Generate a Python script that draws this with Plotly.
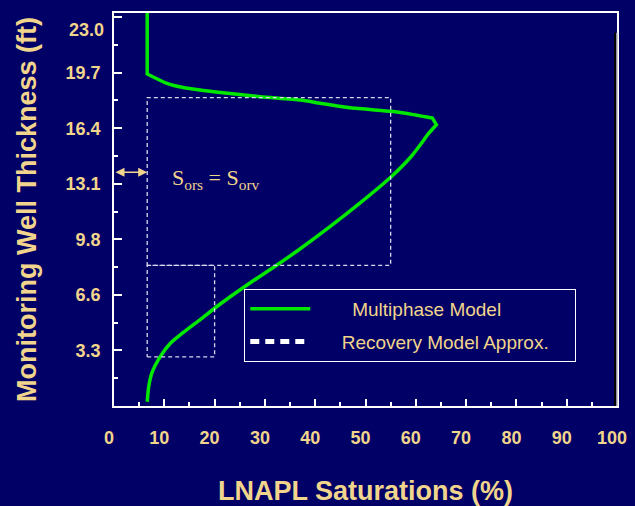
import plotly.graph_objects as go

# ---- data ----
curve_sat = [6.6, 6.9, 7.5, 9.1, 11.2, 13.8, 17.2, 20.0, 23.1, 27.1, 32.4, 37.1, 43.0, 49.0,
             55.0, 59.0, 61.6, 62.3, 64.1, 64.1, 63.3, 63.3, 57.6, 55.1, 47.0, 41.0, 37.1, 29.1, 19.8,
             13.8, 10.5, 6.6, 6.6, 6.6]
curve_thk = [0.25, 1.14, 1.93, 2.87, 3.7, 4.35, 5.12, 5.77, 6.45, 7.28, 8.32, 9.3, 10.6, 12.0,
             13.5, 14.7, 15.7, 16.0, 16.6, 16.6, 17.0, 17.0, 17.3, 17.4, 17.6, 17.87, 18.06, 18.26, 18.55,
             18.8, 19.05, 19.6, 19.6, 23.3]

# Recovery model approximation: residual saturation and step saturations
resid_sat = 6.6
upper_sat = 55.0
lower_sat = 20.0
upper_top = 18.2
upper_bot = 8.3
lower_bot = 2.9
approx_sat = [resid_sat, upper_sat, upper_sat, resid_sat, resid_sat, None,
              resid_sat, lower_sat, lower_sat, resid_sat, resid_sat]
approx_thk = [upper_bot, upper_bot, upper_top, upper_top, upper_bot, None,
              lower_bot, lower_bot, upper_bot, upper_bot, lower_bot]

x_tick_vals = [0, 10, 20, 30, 40, 50, 60, 70, 80, 90, 100]
y_tick_vals = [3.28, 6.56, 9.84, 13.12, 16.4, 19.68, 22.96]
y_tick_text = ["3.3", "6.6", "9.8", "13.1", "16.4", "19.7", "23.0"]
arrow_thk = 13.8

BG = "#000066"
TAN = "#F2D58C"
GREEN = "#00E800"
BOX = "#D8D8EE"
NB = "\u00a0"

fig = go.Figure()
fig.add_trace(go.Scatter(x=curve_sat, y=curve_thk, mode="lines",
                         name=NB * 7 + "Multiphase Model",
                         line=dict(color=GREEN, width=3.5, shape="spline", smoothing=0.6),
                         legendgroup="a"))
fig.add_trace(go.Scatter(x=approx_sat, y=approx_thk, mode="lines", showlegend=False,
                         line=dict(color=BOX, width=1.3, dash="4px,3px")))
fig.add_trace(go.Scatter(x=[None], y=[None], mode="lines",
                         name=NB * 5 + "Recovery Model Approx." + NB * 4,
                         line=dict(color="white", width=5, dash="9px,6px"), legendgroup="b"))

fig.update_layout(
    width=635, height=506,
    paper_bgcolor=BG, plot_bgcolor=BG,
    margin=dict(l=114, r=18, t=13, b=100, autoexpand=False),
    font=dict(family="Liberation Sans, Arial, sans-serif", color=TAN),
    legend=dict(x=0.259, y=0.298, xanchor="left", yanchor="top",
                bgcolor=BG, bordercolor="white", borderwidth=1,
                font=dict(size=19, color=TAN), tracegroupgap=5,
                itemwidth=60),
    xaxis=dict(range=[0, 100], tickvals=x_tick_vals, ticks="inside", ticklen=7,
               tickcolor="white", tickwidth=1.5, showline=True, linecolor="white",
               linewidth=1.5, mirror=True, showgrid=False, zeroline=False, automargin=False,
               tickfont=dict(size=18, color=TAN, family="Liberation Sans, Arial", weight="bold"),
               ticklabelstandoff=15, ticklabelshift=-5,
               minor=dict(dtick=5, tick0=0, ticks="inside", ticklen=4, tickcolor="white"),
               title=dict(text="<b>LNAPL Saturations (%)</b>", font=dict(size=27, color=TAN),
                          standoff=39)),
    yaxis=dict(range=[0, 23.2], tickvals=y_tick_vals, ticktext=y_tick_text[:-1] + [""],
               ticks="inside", ticklen=8, tickcolor="white", tickwidth=1.5,
               showline=True, linecolor="white", linewidth=1.5, mirror=True,
               showgrid=False, zeroline=False, automargin=False,
               tickfont=dict(size=18, color=TAN, family="Liberation Sans, Arial", weight="bold"),
               ticklabelstandoff=8,
               minor=dict(tickmode="linear", tick0=1.64, dtick=3.28, ticks="inside", ticklen=4,
                          tickcolor="white"),
               title=dict(text="<b>Monitoring Well Thickness (ft)</b>",
                          font=dict(size=27, color=TAN), standoff=21)),
)

# top tick label placed slightly lower, as in the original
fig.add_annotation(x=0, xref="paper", y=22.2, yref="y", text="<b>" + y_tick_text[-1] + "</b>",
                   showarrow=False, xanchor="right", xshift=-8,
                   font=dict(size=18, color=TAN))

# double arrow marking residual saturation
fig.add_annotation(x=resid_sat, y=arrow_thk, ax=0, ay=arrow_thk, xref="x", yref="y",
                   axref="x", ayref="y", text="", showarrow=True, arrowside="end+start",
                   arrowhead=2, arrowsize=1.2, arrowwidth=1.5, arrowcolor=TAN)
fig.add_annotation(x=20.3, y=13.4, xref="x", yref="y",
                   text="S<sub>ors</sub> = S<sub>orv</sub>", showarrow=False,
                   font=dict(family="Liberation Serif, Times New Roman, serif", size=22, color=TAN))

# right frame shading
fig.add_shape(type="line", xref="paper", yref="paper", xsizemode="pixel", xanchor=1,
              x0=-2, x1=-2, y0=0, y1=0.95, line=dict(color="black", width=2))
fig.add_shape(type="line", xref="paper", yref="paper", x0=1, x1=1, y0=0, y1=0.95,
              line=dict(color="#BBBBBB", width=1.5))

fig.write_html("out.html", config={"displayModeBar": False},
               post_script="document.body.style.margin='0px';document.body.style.padding='0px';"
                           "document.body.style.background='#000066';")
